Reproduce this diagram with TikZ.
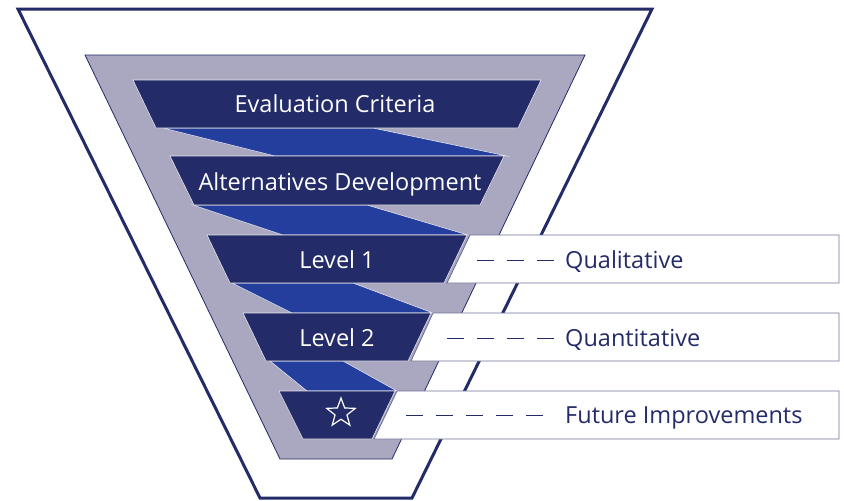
\documentclass[tikz,border=0pt]{standalone}
\usepackage{fontspec}
\setmainfont{Open Sans}
\usepackage{xcolor}
\usetikzlibrary{shapes.geometric}

\definecolor{navy}{RGB}{35,43,104}
\definecolor{funnelgray}{RGB}{170,168,192}
\definecolor{ribbon}{RGB}{36,62,158}
\definecolor{boxline}{RGB}{112,116,152}

\begin{document}
\begin{tikzpicture}[
        x=1pt, y=-1pt,
        font=\fontsize{23.5}{28}\selectfont,
        outer/.style={draw=navy, line width=3pt, fill=white},
        inner/.style={draw=navy, line width=0.8pt, fill=funnelgray},
        ribbonband/.style={fill=ribbon, draw=white!70!funnelgray, line width=0.6pt},
        stage/.style={fill=navy, draw=white!70!funnelgray, line width=0.6pt},
        labelbox/.style={fill=white, draw=boxline, line width=0.9pt},
        stagetext/.style={text=white, anchor=base, inner sep=0pt},
        labeltext/.style={text=navy, anchor=base west, inner sep=0pt},
        dashline/.style={draw=navy, line width=1pt, dash pattern=on 17pt off 13pt}
    ]
    \useasboundingbox (0,0) rectangle (844,501);

    % OUTER FUNNEL
    \draw[outer] (18,9) -- (652,9) -- (412,498) -- (260,498) -- cycle;

    % INNER FUNNEL
    \draw[inner] (85,55) -- (585,55) -- (392,459) -- (280,459) -- cycle;

    % RIBBONS
    \draw[ribbonband] (163,128) -- (373,128) -- (507,156) -- (275,156) -- cycle;
    \draw[ribbonband] (193,205) -- (367,205) -- (468,235) -- (283,235) -- cycle;
    \draw[ribbonband] (232,283) -- (353,283) -- (433,313) -- (292,313) -- cycle;
    \draw[ribbonband] (270,361) -- (343,361) -- (397,391) -- (307,391) -- cycle;

    % STAGES
    \draw[stage] (133,80) -- (541,80) -- (518,128) -- (156,128) -- cycle;
    \draw[stage] (170,156) -- (504,156) -- (480,205) -- (194,205) -- cycle;
    \draw[stage] (207,235) -- (467,235) -- (444,283) -- (230,283) -- cycle;
    \draw[stage] (243,313) -- (431,313) -- (408,361) -- (266,361) -- cycle;
    \draw[stage] (279,391) -- (395,391) -- (372,439) -- (303,439) -- cycle;

    \node[stagetext] (criteria) at (335,112) {Evaluation Criteria};
    \node[stagetext] (alternatives) at (340,190) {Alternatives Development};
    \node[stagetext] (level1) at (337,268) {Level 1};
    \node[stagetext] (level2) at (337,346) {Level 2};
    \node[star, star points=5, star point ratio=2.4, draw=white, line width=1.2pt,
          minimum size=30pt, inner sep=0pt] (future) at (341,413) {};

    % LABEL BOXES
    \draw[labelbox] (470,235) -- (839,235) -- (839,283) -- (447,283) -- cycle;
    \draw[labelbox] (433,313) -- (839,313) -- (839,361) -- (411,361) -- cycle;
    \draw[labelbox] (397,391) -- (839,391) -- (839,439) -- (374,439) -- cycle;

    \node[labeltext] (qualitative) at (565,268) {Qualitative};
    \node[labeltext] (quantitative) at (565,346) {Quantitative};
    \node[labeltext] (improvements) at (565,423) {Future Improvements};

    % DASHED LEADERS
    \coordinate (qualstart) at (477,260);
    \coordinate (qualend) at (554,260);
    \coordinate (quantstart) at (447,338);
    \coordinate (quantend) at (554,338);
    \coordinate (futstart) at (406,415);
    \coordinate (futend) at (543,415);
    \draw[dashline] (qualstart) -- (qualend);
    \draw[dashline] (quantstart) -- (quantend);
    \draw[dashline] (futstart) -- (futend);

\end{tikzpicture}
\end{document}
